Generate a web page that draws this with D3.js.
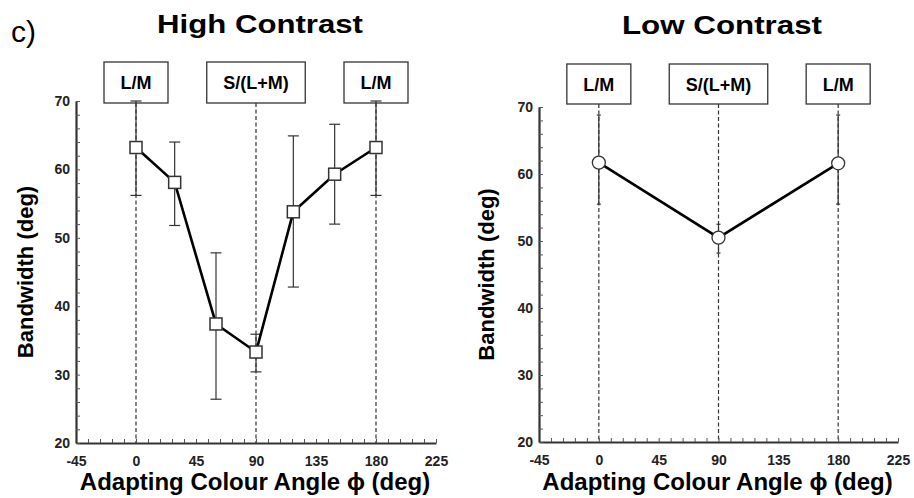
<!DOCTYPE html>
<html>
<head>
<meta charset="utf-8">
<script src="https://cdn.jsdelivr.net/npm/d3@7"></script>
<style>
  body { margin: 0; background: #fff; }
  svg { display: block; font-family: "Liberation Sans", Arial, sans-serif; }
  .axis path { stroke: #333; stroke-width: 2.2px; }
  .axis line { stroke: #555; stroke-width: 1px; }
  .axis text { font-weight: bold; font-size: 14px; fill: #222; }
</style>
</head>
<body>
<svg id="chart" width="914" height="498"></svg>
<script>
// data
var hcAngles = [0, 29, 60, 90, 118, 149, 180];
var hcBandwidth = [63.2, 58.1, 37.4, 33.3, 53.8, 59.3, 63.2];
var hcErrHigh = [70, 64.0, 47.8, 35.9, 64.9, 66.6, 70];
var hcErrLow = [56.2, 51.8, 26.4, 30.4, 42.8, 52.0, 56.2];

var lcAngles = [0, 90, 180];
var lcBandwidth = [61.7, 50.5, 61.6];
var lcErrHigh = [68.8, 52.5, 68.8];
var lcErrLow = [55.5, 48.2, 55.5];

var xTickLabels = [-45, 0, 45, 90, 135, 180, 225];
var yTickLabels = [20, 30, 40, 50, 60, 70];
var markerAngles = [0, 90, 180];
var markerLabels = ["L/M", "S/(L+M)", "L/M"];

var svg = d3.select("#chart");

svg.append("text")
    .attr("x", 11)
    .attr("y", 42)
    .style("font-size", "30px")
    .text("c)");

function drawPanel(cfg) {
    var x = d3.scaleLinear().domain([-45, 225]).range([cfg.left, cfg.right]);
    var y = d3.scaleLinear().domain([20, 70]).range([cfg.bottom, cfg.top]);

    var g = svg.append("g");

    // title (the source figure is a bit wide, so stretch it)
    g.append("text")
        .attr("x", cfg.titleX)
        .attr("y", cfg.titleY)
        .attr("text-anchor", "middle")
        .attr("textLength", cfg.titleW)
        .attr("lengthAdjust", "spacingAndGlyphs")
        .style("font-size", "26px")
        .style("font-weight", "bold")
        .text(cfg.title);

    // dashed reference lines at the cardinal directions
    g.selectAll(".ref")
        .data(markerAngles)
        .join("line")
        .attr("x1", d => x(d)).attr("x2", d => x(d))
        .attr("y1", cfg.boxBottom).attr("y2", y(20))
        .attr("stroke", "#333")
        .attr("stroke-width", 1.2)
        .attr("stroke-dasharray", "4,2.5");

    // label boxes
    var boxes = g.selectAll(".box")
        .data(markerAngles)
        .join("g");
    boxes.each(function (d, i) {
        var b = d3.select(this);
        var t = b.append("text")
            .attr("x", x(d))
            .attr("y", (cfg.boxTop + cfg.boxBottom) / 2 + 6.5)
            .attr("text-anchor", "middle")
            .style("font-size", "18px")
            .style("font-weight", "bold")
            .text(markerLabels[i]);
        var w = t.node().getComputedTextLength() + 33;
        b.insert("rect", "text")
            .attr("x", x(d) - w / 2)
            .attr("y", cfg.boxTop)
            .attr("width", w)
            .attr("height", cfg.boxBottom - cfg.boxTop)
            .attr("fill", "#fff")
            .attr("stroke", "#333")
            .attr("stroke-width", 1.3);
    });

    // axes
    var xAxis = d3.axisBottom(x)
        .tickValues(d3.range(-45, 226, 9))
        .tickSizeInner(-4)
        .tickSizeOuter(0)
        .tickPadding(13)
        .tickFormat(d => xTickLabels.includes(d) ? d : "");
    g.append("g")
        .attr("class", "axis")
        .attr("transform", `translate(0,${y(20)})`)
        .call(xAxis);

    var yAxis = d3.axisLeft(y)
        .tickValues(d3.range(20, 71, 2))
        .tickSizeInner(-4)
        .tickSizeOuter(0)
        .tickPadding(6)
        .tickFormat(d => yTickLabels.includes(d) ? d : "");
    g.append("g")
        .attr("class", "axis")
        .attr("transform", `translate(${x(-45)},0)`)
        .call(yAxis);

    // axis titles
    g.append("text")
        .attr("x", (x(-45) + x(225)) / 2 - 1)
        .attr("y", 490)
        .attr("text-anchor", "middle")
        .style("font-size", "24px")
        .style("font-weight", "bold")
        .text("Adapting Colour Angle \u03d5 (deg)");

    g.append("text")
        .attr("transform", `translate(${cfg.yTitleX},${(y(20) + y(70)) / 2}) rotate(-90)`)
        .attr("text-anchor", "middle")
        .style("font-size", "22px")
        .style("font-weight", "bold")
        .text("Bandwidth (deg)");

    var data = cfg.angles.map((a, i) => ({a: a, v: cfg.values[i], hi: cfg.hi[i], lo: cfg.lo[i]}));

    // error bars
    var eb = g.append("g");
    eb.selectAll(".err")
        .data(data)
        .join("line")
        .attr("x1", d => x(d.a)).attr("x2", d => x(d.a))
        .attr("y1", d => y(d.hi)).attr("y2", d => y(d.lo))
        .attr("stroke", "#333")
        .attr("stroke-width", 1.2);
    ["hi", "lo"].forEach(function (k) {
        eb.selectAll(".cap-" + k)
            .data(data)
            .join("line")
            .attr("x1", d => x(d.a) - cfg.cap).attr("x2", d => x(d.a) + cfg.cap)
            .attr("y1", d => y(d[k])).attr("y2", d => y(d[k]))
            .attr("stroke", "#333")
            .attr("stroke-width", 1.2);
    });

    // connecting line
    var line = d3.line().x(d => x(d.a)).y(d => y(d.v));
    g.append("path")
        .datum(data)
        .attr("d", line)
        .attr("fill", "none")
        .attr("stroke", "#000")
        .attr("stroke-width", 2.6);

    // markers
    if (cfg.marker === "square") {
        g.selectAll(".pt")
            .data(data)
            .join("rect")
            .attr("x", d => x(d.a) - 6)
            .attr("y", d => y(d.v) - 6)
            .attr("width", 12)
            .attr("height", 12)
            .attr("fill", "#fff")
            .attr("stroke", "#333")
            .attr("stroke-width", 1.5);
    } else {
        g.selectAll(".pt")
            .data(data)
            .join("circle")
            .attr("cx", d => x(d.a))
            .attr("cy", d => y(d.v))
            .attr("r", 6.5)
            .attr("fill", "#fff")
            .attr("stroke", "#333")
            .attr("stroke-width", 1.3);
    }
}

drawPanel({
    title: "High Contrast", titleX: 260, titleY: 33, titleW: 206,
    left: 76, right: 436, top: 101, bottom: 443,
    boxTop: 62, boxBottom: 103, yTitleX: 33,
    angles: hcAngles, values: hcBandwidth, hi: hcErrHigh, lo: hcErrLow,
    marker: "square", cap: 5.5
});

drawPanel({
    title: "Low Contrast", titleX: 722, titleY: 34, titleW: 200,
    left: 539, right: 898, top: 107, bottom: 442,
    boxTop: 64, boxBottom: 104, yTitleX: 494,
    angles: lcAngles, values: lcBandwidth, hi: lcErrHigh, lo: lcErrLow,
    marker: "circle", cap: 2
});
</script>
</body>
</html>
